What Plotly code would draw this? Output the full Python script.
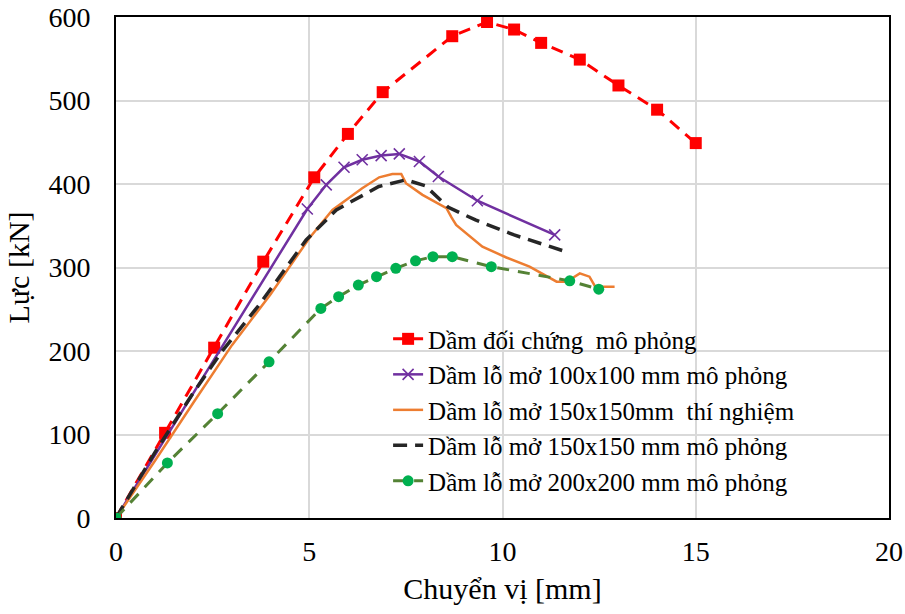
import plotly.graph_objects as go

# Dầm đối chứng mô phỏng
x_ref = [0, 1.27, 2.54, 3.81, 5.13, 6.0, 6.9, 8.7, 9.6, 10.3, 11.0, 12.0, 13.0, 14.0, 15.0]
y_ref = [0, 102, 204, 307, 408, 460, 510, 577, 594, 585, 569, 549, 518, 489, 449]

# Dầm lỗ mở 100x100 mm mô phỏng
x_100 = [0, 4.95, 5.44, 5.9, 6.37, 6.86, 7.33, 7.85, 8.34, 9.35, 11.35]
y_100 = [0, 370, 399, 420, 429, 434, 436, 427, 409, 380, 339]

# Dầm lỗ mở 150x150mm thí nghiệm
x_exp = [0, 1, 2, 3, 4, 4.4, 4.66, 5.0, 5.6, 6.37, 6.81, 7.15, 7.38, 7.5, 7.93, 8.55, 8.68,
         8.8, 9.48, 10.1, 10.7, 11.4, 11.66, 12.0, 12.25, 12.4, 12.9]
y_exp = [0, 68, 138, 207, 268, 295, 313, 335, 369, 395, 408, 412, 412, 401, 387, 371, 360,
         351, 325, 312, 301, 283, 283, 293, 289, 277, 277]

# Dầm lỗ mở 150x150 mm mô phỏng
x_150 = [0, 1, 2, 2.75, 3.7, 4.4, 4.92, 5.7, 6.8, 7.5, 8.0, 8.6, 9.3, 10.3, 11.7]
y_150 = [0, 78, 150, 200, 255, 300, 333, 369, 397, 405, 398, 372, 357, 339, 318]

# Dầm lỗ mở 200x200 mm mô phỏng
x_200 = [0, 1.33, 2.63, 3.96, 5.3, 5.76, 6.27, 6.74, 7.24, 7.75, 8.2, 8.7, 9.71, 11.74, 12.49]
y_200 = [0, 66, 125, 187, 251, 265, 279, 289, 299, 308, 313, 313, 301, 284, 274]

names = [
    "Dầm đối chứng  mô phỏng",
    "Dầm lỗ mở 100x100 mm mô phỏng",
    "Dầm lỗ mở 150x150mm  thí nghiệm",
    "Dầm lỗ mở 150x150 mm mô phỏng",
    "Dầm lỗ mở 200x200 mm mô phỏng",
]

FONT = "Liberation Serif, Times New Roman, serif"

fig = go.Figure()
fig.add_trace(go.Scatter(x=x_ref, y=y_ref, name=names[0], mode="lines+markers",
                         line=dict(color="#FF0000", width=3, dash="12px,8px"),
                         marker=dict(symbol="square", size=12, color="#FF0000")))
fig.add_trace(go.Scatter(x=x_100, y=y_100, name=names[1], mode="lines+markers",
                         line=dict(color="#7030A0", width=2.5),
                         marker=dict(symbol="x-thin", size=11, line=dict(color="#7030A0", width=1.6))))
fig.add_trace(go.Scatter(x=x_exp, y=y_exp, name=names[2], mode="lines",
                         line=dict(color="#ED7D31", width=2.5)))
fig.add_trace(go.Scatter(x=x_150, y=y_150, name=names[3], mode="lines",
                         line=dict(color="#262626", width=3.5, dash="14px,8px")))
fig.add_trace(go.Scatter(x=x_200, y=y_200, name=names[4], mode="lines+markers",
                         line=dict(color="#548235", width=3, dash="12px,9px"),
                         marker=dict(symbol="circle", size=11, color="#00B050")))

axis_common = dict(
    showgrid=True, gridcolor="#D9D9D9", gridwidth=1.5,
    showline=True, linecolor="black", linewidth=2, mirror=True,
    zeroline=False, ticks="", automargin=False,
    tickfont=dict(family=FONT, size=28, color="black"),
)
fig.update_xaxes(range=[0, 20], dtick=5, tick0=0, ticklabelstandoff=7,
                 title=dict(text="Chuyển vị [mm]", font=dict(family=FONT, size=30, color="black"), standoff=12),
                 **axis_common)
fig.update_yaxes(range=[0, 600], dtick=100, tick0=0, ticklabelstandoff=18,
                 title=dict(text="Lực [kN]", font=dict(family=FONT, size=30, color="black"), standoff=10),
                 **axis_common)

fig.update_layout(
    width=905, height=614,
    margin=dict(l=116, r=16, t=17, b=96),
    paper_bgcolor="white", plot_bgcolor="white",
    font=dict(family=FONT, color="black"),
    legend=dict(x=0.352, y=0.403, xanchor="left", yanchor="top",
                bgcolor="rgba(0,0,0,0)", font=dict(family=FONT, size=25, color="black"),
                traceorder="normal"),
)
fig.write_html("out.html")
